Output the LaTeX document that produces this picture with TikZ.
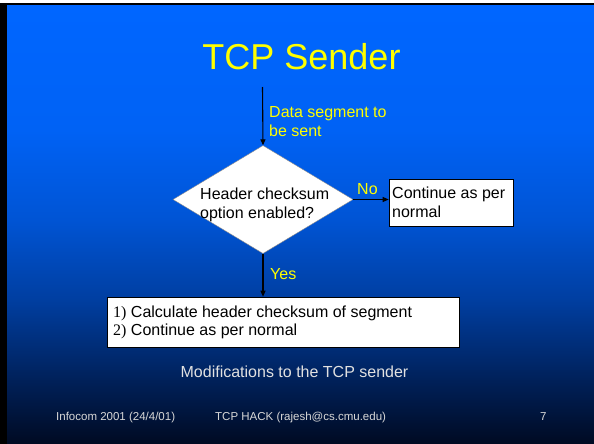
\documentclass[tikz,border=0pt]{standalone}
\usepackage{fontspec}
\setmainfont{Liberation Sans}
\newfontfamily\timesf{Liberation Serif}
\usetikzlibrary{shapes.geometric,arrows.meta}
\definecolor{bgA}{RGB}{0,102,255}
\definecolor{bgB}{RGB}{0,98,245}
\definecolor{bgC}{RGB}{0,84,212}
\definecolor{bgD}{RGB}{0,62,160}
\definecolor{bgE}{RGB}{0,36,98}
\definecolor{bgF}{RGB}{0,10,34}
\definecolor{ttl}{RGB}{255,255,0}
\definecolor{sub}{RGB}{225,225,225}
\definecolor{foot}{RGB}{215,215,215}
\begin{document}
\begin{tikzpicture}[x=1pt,y=-1pt,
  txt/.style={font=\fontsize{16}{19}\selectfont, inner sep=0pt, anchor=base west},
  ylw/.style={txt, text=ttl},
  ftr/.style={font=\fontsize{11.5}{13}\selectfont, inner sep=0pt, anchor=base west, text=foot},
  wbox/.style={draw=black, line width=0.6pt, fill=white, inner sep=0pt},
  conn/.style={draw=black, line width=1.1pt, -{Triangle[length=6pt,width=5pt]}}]
\useasboundingbox (0,0) rectangle (594,444);
\fill[white] (0,0) rectangle (594,444);
\fill[black] (0,3) rectangle (594,444);
\shade[top color=bgA, bottom color=bgB] (7,6) rectangle (594,131);
\shade[top color=bgB, bottom color=bgC] (7,130) rectangle (594,221);
\shade[top color=bgC, bottom color=bgD] (7,220) rectangle (594,301);
\shade[top color=bgD, bottom color=bgE] (7,300) rectangle (594,371);
\shade[top color=bgE, bottom color=bgF] (7,370) rectangle (594,444);

\node (title) [font=\fontsize{36}{40}\selectfont, text=ttl, inner sep=0pt, anchor=base] at (301.5,70) {TCP Sender};

\coordinate (src) at (262.5,87);
\node (dec) [diamond, fill=white, draw=black!45, line width=0.4pt, minimum width=180pt, minimum height=108pt, inner sep=0pt] at (263,199.5) {};
\node (cont) [wbox, minimum width=124pt, minimum height=47pt] at (451,202.5) {};
\node (calc) [wbox, minimum width=352pt, minimum height=50pt] at (283,322) {};

\draw[conn] (src) -- (dec.north);
\draw[conn] (dec.east) -- (dec.east -| cont.west);
\draw[conn] (dec.south) -- (dec.south |- calc.north);

\node (d1) [ylw] at (269,117) {Data segment to};
\node (d2) [ylw] at (269,136) {be sent};
\node (h1) [txt] at (200,199) {Header checksum};
\node (h2) [txt] at (200,218) {option enabled?};
\node (no) [ylw] at (357,194) {No};
\node (yes) [ylw] at (270,279) {Yes};
\node (c1) [txt] at (392,198) {Continue as per};
\node (c2) [txt] at (392,217) {normal};
\node (k1) [txt] at (113,317) {{\timesf 1)} Calculate header checksum of segment};
\node (k2) [txt] at (113,335) {{\timesf 2)} Continue as per normal};

\node (mod) [font=\fontsize{16}{19}\selectfont, text=sub, inner sep=0pt, anchor=base] at (294.5,377) {Modifications to the TCP sender};
\node (f1) [ftr] at (56,420) {Infocom 2001 (24/4/01)};
\node (f2) [ftr] at (215,420) {TCP HACK (rajesh@cs.cmu.edu)};
\node (f3) [ftr] at (540,420) {7};
\end{tikzpicture}
\end{document}
